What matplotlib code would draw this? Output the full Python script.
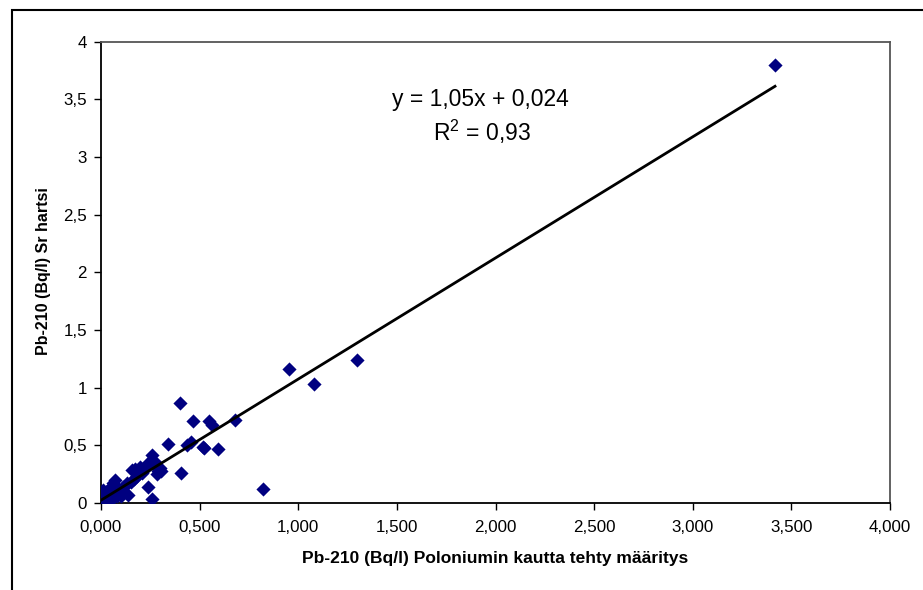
import matplotlib.pyplot as plt
from matplotlib.patches import Rectangle
from matplotlib.ticker import FuncFormatter

# Pb-210 via polonium (x) vs Sr resin (y), Bq/l
x_po = [3.417, 1.298, 1.080, 0.953, 0.821, 0.681, 0.595, 0.564, 0.549, 0.524,
        0.519, 0.465, 0.455, 0.438, 0.400, 0.404, 0.338, 0.305, 0.291, 0.282,
        0.274, 0.257, 0.240, 0.240, 0.260, 0.300, 0.198, 0.172, 0.155, 0.139,
        0.130, 0.110, 0.105, 0.071, 0.063, 0.046, 0.030, 0.010, 0.003, 0.000,
        0.010, 0.040, 0.060, 0.080, 0.005, 0.020, 0.050, 0.090, 0.120, 0.015,
        0.035, 0.070, 0.100, 0.025, 0.000, 0.045, 0.085, 0.008, 0.150, 0.185,
        0.230, 0.270, 0.210, 0.165]
y_sr = [3.800, 1.239, 1.031, 1.161, 0.119, 0.722, 0.465, 0.678, 0.708, 0.474,
        0.488, 0.708, 0.531, 0.503, 0.870, 0.263, 0.508, 0.280, 0.280, 0.251,
        0.358, 0.416, 0.344, 0.141, 0.032, 0.300, 0.315, 0.292, 0.286, 0.069,
        0.170, 0.140, 0.098, 0.199, 0.170, 0.127, 0.100, 0.110, 0.080, 0.040,
        0.020, 0.050, 0.040, 0.060, 0.005, 0.070, 0.090, 0.110, 0.150, 0.030,
        0.020, 0.100, 0.060, 0.010, 0.060, 0.030, 0.120, 0.090, 0.180, 0.230,
        0.300, 0.330, 0.260, 0.210]

slope = 1.05
intercept = 0.024
equation = "y = 1,05x + 0,024"
r2_text = "R$^2$ = 0,93"

x_ticks = [0, 0.5, 1.0, 1.5, 2.0, 2.5, 3.0, 3.5, 4.0]
y_ticks = [0, 0.5, 1, 1.5, 2, 2.5, 3, 3.5, 4]

plt.rcParams['font.family'] = ['Liberation Sans', 'DejaVu Sans']
plt.rcParams['mathtext.fontset'] = 'custom'
plt.rcParams['mathtext.rm'] = 'Liberation Sans'

fig = plt.figure(figsize=(9.23, 5.90), dpi=100)
ax = fig.add_axes([101/923, 1 - 503/590, 789/923, 461.5/590])

# chart area border
fig.patches.append(Rectangle((12/923, -0.02), 1.0, 1 - 10/590 + 0.02,
                             transform=fig.transFigure, fill=False,
                             edgecolor='black', linewidth=1.5))

ax.scatter(x_po, y_sr, marker='D', s=52, color='#000080', zorder=3, linewidths=0)

x0, x1 = min(x_po), max(x_po)
ax.plot([x0, x1], [slope*x0 + intercept, slope*x1 + intercept],
        color='black', linewidth=2, zorder=4)

ax.text(1.924, 3.50, equation, ha='center', va='center', fontsize=16.5)
ax.text(1.93, 3.215, r2_text, ha='center', va='center', fontsize=16.5)

ax.set_xlim(0, 4)
ax.set_ylim(0, 4)
ax.set_xticks(x_ticks)
ax.set_yticks(y_ticks)
ax.xaxis.set_major_formatter(FuncFormatter(lambda v, p: f"{v:.3f}".replace('.', ',')))
ax.yaxis.set_major_formatter(FuncFormatter(lambda v, p: f"{v:g}".replace('.', ',')))
ax.tick_params(direction='out', length=5, width=1, labelsize=12.2)
ax.tick_params(axis='x', pad=7)
ax.tick_params(axis='y', pad=5)

ax.spines['left'].set_linewidth(1.3)
ax.spines['bottom'].set_linewidth(1.3)
ax.spines['top'].set_color('#555555')
ax.spines['right'].set_color('#555555')
ax.spines['top'].set_linewidth(1.3)
ax.spines['right'].set_linewidth(1.3)

fig.text(495/923, 1 - 558/590, "Pb-210 (Bq/l) Poloniumin kautta tehty määritys",
         ha='center', va='center', fontsize=12.5, fontweight='bold')
fig.text(44/923, 1 - 271/590, "Pb-210 (Bq/l) Sr hartsi", rotation=90,
         ha='center', va='center', fontsize=11.5, fontweight='bold')

plt.savefig('out.png', dpi=100)
